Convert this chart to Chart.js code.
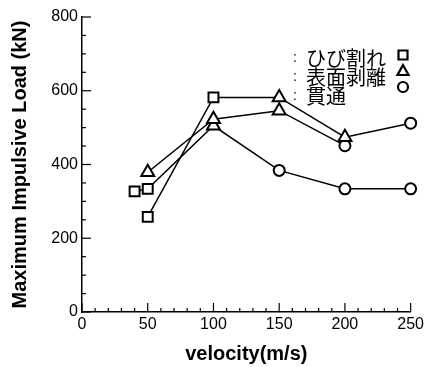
<!DOCTYPE html>
<html>
<head>
<meta charset="utf-8">
<title></title>
<script src="https://cdn.jsdelivr.net/npm/chart.js@4.4.0/dist/chart.umd.min.js"></script>
<style>
body { margin: 0; background: #fff; }
</style>
</head>
<body>
<canvas id="chart" width="427" height="367"></canvas>
<script>
// axis ticks
var xTicks = [0, 50, 100, 150, 200, 250];
var yTicks = [0, 200, 400, 600, 800];

// damage types (marker per point)
var damageNames = ['ひび割れ', '表面剥離', '貫通'];
var damageStyles = ['rect', 'triangle', 'circle'];
var damageRadius = [7, 7.5, 5.5];

// series 1
var vel1 = [50, 100, 150, 200, 250];
var load1 = [258, 582, 582, 474, 512];
var dmg1 = [0, 0, 1, 1, 2];

// series 2
var vel2 = [50, 100, 150, 200];
var load2 = [379, 523, 546, 451];
var dmg2 = [1, 1, 1, 2];

// series 3
var vel3 = [40, 50, 100, 150, 200, 250];
var load3 = [327, 334, 505, 384, 334, 334];
var dmg3 = [0, 0, 1, 2, 2, 2];

function makeSet(vel, load, dmg) {
	var pts = [];
	for (var i = 0; i < vel.length; i++) pts.push({x: vel[i], y: load[i]});
	return {
		data: pts,
		borderColor: '#000',
		borderWidth: 1.5,
		pointStyle: function(c) { return damageStyles[dmg[c.dataIndex]]; },
		pointRadius: function(c) { return damageRadius[dmg[c.dataIndex]]; },
		pointBorderWidth: 2,
		pointBorderColor: '#000',
		pointBackgroundColor: '#fff',
		fill: false,
		clip: false,
		tension: 0
	};
}

// inward tick marks + legend text
var extras = {
	id: 'extras',
	afterDraw: function(chart) {
		var ctx = chart.ctx;
		var xs = chart.scales.x, ys = chart.scales.y;
		var a = chart.chartArea;
		ctx.save();
		ctx.strokeStyle = '#000';
		ctx.lineWidth = 1.2;
		for (var v = 0; v <= 800; v += 50) {
			var py = ys.getPixelForValue(v);
			var len = (v % 200 == 0) ? 9 : 4;
			ctx.beginPath(); ctx.moveTo(a.left - 1, py); ctx.lineTo(a.left + len, py); ctx.stroke();
		}
		for (var u = 0; u <= 250; u += 10) {
			var px = xs.getPixelForValue(u);
			var l2 = (u % 50 == 0) ? 9 : 4;
			ctx.beginPath(); ctx.moveTo(px, a.bottom); ctx.lineTo(px, a.bottom - l2); ctx.stroke();
		}

		// legend
		ctx.fillStyle = '#000';
		ctx.textBaseline = 'middle';
		for (var i = 0; i < damageNames.length; i++) {
			var ty = 58 + i * 19;
			ctx.textAlign = 'left';
			ctx.font = '14px "Liberation Sans"';
			ctx.fillText(':', 293, ty);
			ctx.font = '20px "Noto Sans CJK JP"';
			ctx.fillText(damageNames[i], 306, ty);
			var mx = 403, my = 55 + i * 16;
			ctx.lineWidth = 2.2;
			ctx.beginPath();
			if (damageStyles[i] == 'rect') {
				ctx.rect(mx - 4.5, my - 4.5, 9, 9);
			} else if (damageStyles[i] == 'triangle') {
				ctx.moveTo(mx, my - 6); ctx.lineTo(mx + 5.5, my + 4); ctx.lineTo(mx - 5.5, my + 4); ctx.closePath();
			} else {
				ctx.arc(mx, my, 5, 0, Math.PI * 2);
			}
			ctx.stroke();
		}
		ctx.restore();
	}
};

var canvas = document.getElementById('chart').getContext('2d');
window.line = new Chart(canvas, {
	type: 'line',
	data: {
		datasets: [makeSet(vel1, load1, dmg1), makeSet(vel2, load2, dmg2), makeSet(vel3, load3, dmg3)]
	},
	options: {
		responsive: false,
		animation: false,
		layout: { padding: { left: 0, top: 17, right: 14, bottom: 0 } },
		plugins: { legend: { display: false }, tooltip: { enabled: false } },
		scales: {
			x: {
				type: 'linear', min: 0, max: 250,
				afterBuildTicks: function(s) { s.ticks = xTicks.map(function(v) { return {value: v}; }); },
				afterFit: function(s) { s.height = 55; },
				grid: { display: false, drawTicks: false },
				border: { display: true, color: '#000', width: 1.5 },
				ticks: { color: '#000', padding: 3, maxRotation: 0, autoSkip: false, font: { family: 'Liberation Sans', size: 16 } },
				title: { display: true, text: 'velocity(m/s)', color: '#000', padding: { top: 0, bottom: 1 }, font: { family: 'Liberation Sans', size: 20, weight: 'bold' } }
			},
			y: {
				min: 0, max: 800,
				afterBuildTicks: function(s) { s.ticks = yTicks.map(function(v) { return {value: v}; }); },
				afterFit: function(s) { s.width = 82; },
				grid: { display: false, drawTicks: false },
				border: { display: true, color: '#000', width: 1.5 },
				ticks: { color: '#000', padding: 4, autoSkip: false, font: { family: 'Liberation Sans', size: 16 } },
				title: { display: true, text: 'Maximum Impulsive Load (kN)', color: '#000', padding: { top: 8, bottom: 0 }, font: { family: 'Liberation Sans', size: 20, weight: 'bold' } }
			}
		}
	},
	plugins: [extras]
});
</script>
</body>
</html>
